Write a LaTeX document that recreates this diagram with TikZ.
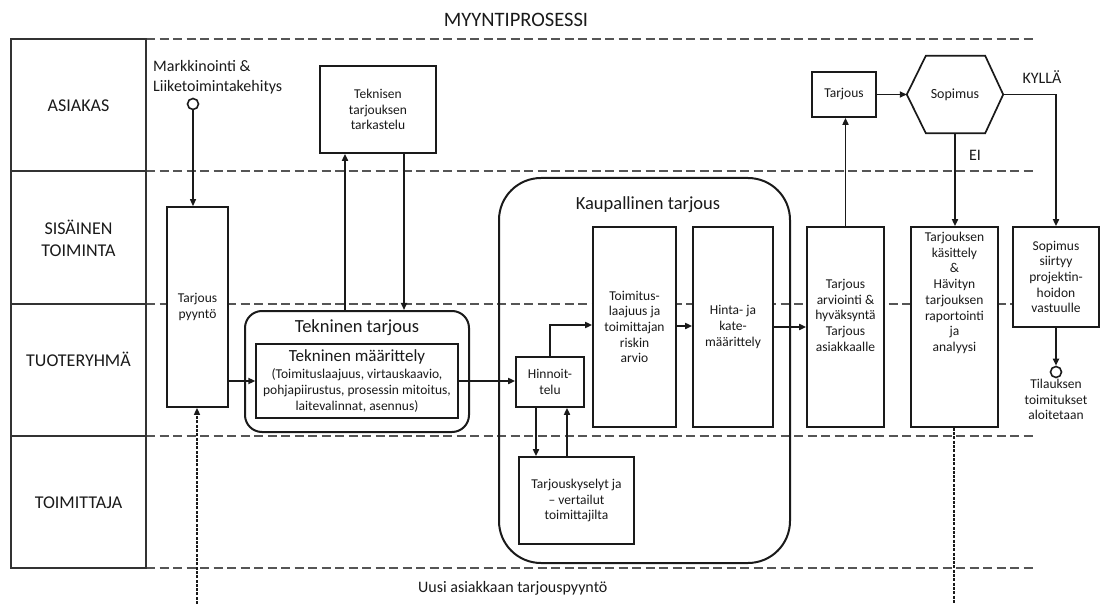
\documentclass[tikz,border=0pt]{standalone}
\usepackage{fontspec}
\setmainfont{Carlito}
\usetikzlibrary{arrows.meta,calc}

\definecolor{ink}{HTML}{1A1A1A}
\definecolor{laneline}{HTML}{555555}
\definecolor{framecol}{HTML}{333333}

\begin{document}
\begin{tikzpicture}[x=1pt,y=-1pt,
  lanesep/.style={draw=laneline, dash pattern=on 9pt off 4.5pt, line width=1.4pt},
  frame/.style={draw=framecol, line width=1.2pt},
  lanetxt/.style={font=\fontsize{18}{22}\selectfont, align=center, text=ink},
  box/.style={draw=ink, fill=white, line width=1.7pt, inner sep=0pt, align=center,
    text=ink, font=\fontsize{13.5}{15.7}\selectfont},
  group/.style={draw=ink, line width=2pt, inner sep=0pt},
  flow/.style={draw=ink, line width=1.7pt, -{Triangle[length=7pt,width=6pt]}},
  thinflow/.style={draw=ink, line width=1.1pt, -{Triangle[length=7pt,width=6pt]}},
  loopline/.style={draw=ink, line width=1.5pt, dash pattern=on 3pt off 1.3pt},
  endpoint/.style={circle, draw=ink, fill=white, line width=1.6pt, minimum size=11pt, inner sep=0pt},
  plain/.style={text=ink, align=center, inner sep=0pt},
]
\useasboundingbox (0,0) rectangle (1101,604);

% title
\node[plain, font=\fontsize{20.5}{24}\selectfont] (title) at (516,20) {MYYNTIPROSESSI};

% swimlane separators
\foreach \yy in {39,171,304,436,568}
  \draw[lanesep] (146,\yy) -- (1037,\yy);

% lane label column
\draw[frame] (11,39) rectangle (146,568);
\foreach \yy in {171,304,436}
  \draw[frame] (11,\yy) -- (146,\yy);
\node[lanetxt] (laneA) at (78.5,106) {ASIAKAS};
\node[lanetxt] (laneS) at (78.5,238) {SISÄINEN\\TOIMINTA};
\node[lanetxt] (laneT) at (78.5,359) {TUOTERYHMÄ};
\node[lanetxt] (laneP) at (78.5,503) {TOIMITTAJA};

% start event
\node[plain, anchor=west, align=left, font=\fontsize{16}{20}\selectfont] (mk) at (153,77)
  {Markkinointi \&\\Liiketoimintakehitys};
\node[endpoint] (start) at (193,104) {};

% request
\node[box, minimum width=61pt, minimum height=200pt] (req) at (197.5,307) {Tarjous\\pyyntö};

% technical offer
\node[box, minimum width=116pt, minimum height=87pt] (tekR) at (378,109.5)
  {Teknisen\\tarjouksen\\tarkastelu};
\node[group, fill=white, rounded corners=17pt, minimum width=224pt, minimum height=121pt] (tekOuter) at (357,371.5) {};
\node[plain, font=\fontsize{18.5}{22}\selectfont] (tekTitle) at (357,328) {Tekninen tarjous};
\node[box, line width=1.3pt, minimum width=202pt, minimum height=74pt] (tekInner) at (357,381)
  {{\fontsize{17}{19}\selectfont Tekninen määrittely}\\[1pt]
   (Toimituslaajuus, virtauskaavio,\\
   pohjapiirustus, prosessin mitoitus,\\
   laitevalinnat, asennus)};

% commercial offer
\node[group, rounded corners=42pt, minimum width=291pt, minimum height=385pt] (kaup) at (644.5,370.5) {};
\node[plain, font=\fontsize{18.5}{22}\selectfont] (kaupTitle) at (648,205) {Kaupallinen tarjous};
\node[box, minimum width=68pt, minimum height=50pt] (hinn) at (550,382) {Hinnoit-\\telu};
\node[box, minimum width=83pt, minimum height=200pt] (risk) at (634.5,327)
  {Toimitus-\\laajuus ja\\toimittajan\\riskin\\arvio};
\node[box, minimum width=80pt, minimum height=200pt] (price) at (733,327)
  {Hinta- ja\\kate-\\määrittely};
\node[box, minimum width=115pt, minimum height=87pt] (supp) at (576.5,500.5)
  {Tarjouskyselyt ja\\– vertailut\\toimittajilta};

% evaluation and customer decision
\node[box, minimum width=77pt, minimum height=200pt] (eval) at (845.5,327)
  {Tarjous\\arviointi \&\\hyväksyntä\\Tarjous\\asiakkaalle\\[8pt]};
\node[box, minimum width=64pt, minimum height=45pt] (offer) at (844,94.5) {Tarjous};
\node[plain, minimum width=96pt, minimum height=77pt, font=\fontsize{14}{16}\selectfont] (sop) at (955,94.5) {Sopimus};
\draw[draw=ink, line width=1.7pt]
  (sop.west) -- ([xshift=19pt]sop.north west) -- ([xshift=-18pt]sop.north east)
  -- (sop.east) -- ([xshift=-18pt]sop.south east) -- ([xshift=19pt]sop.south west) -- cycle;
\node[plain, font=\fontsize{16}{20}\selectfont] (yes) at (1042,77) {KYLLÄ};
\node[plain, font=\fontsize{16}{20}\selectfont] (no) at (975,155) {EI};

\node[box, minimum width=87pt, minimum height=200pt] (decide) at (954.5,327) {};
\node[plain, anchor=north, font=\fontsize{13.5}{15.7}\selectfont] (decideTxt) at (954.5,232)
  {Tarjouksen\\käsittely\\\&\\Hävityn\\tarjouksen\\raportointi\\ja\\analyysi};
\node[box, minimum width=86pt, minimum height=100pt] (proj) at (1056,277)
  {Sopimus\\siirtyy\\projektin-\\hoidon\\vastuulle};
\node[endpoint] (finish) at (1056,372) {};
\node[plain, anchor=north, font=\fontsize{13.5}{15.7}\selectfont] (finishTxt) at (1056,379)
  {Tilauksen\\toimitukset\\aloitetaan};

% new request loop
\coordinate (loopL) at (197,604);
\coordinate (loopR) at (954,604);
\node[plain, anchor=west, font=\fontsize{16}{20}\selectfont] (loopTxt) at (418,588) {Uusi asiakkaan tarjouspyyntö};

% connectors
\draw[thinflow] (start) -- (start |- req.north);
\draw[flow] (req.east |- tekInner.west) -- (tekInner.west);
\draw[flow] ([xshift=-12pt]tekOuter.north) -- ([xshift=-12pt]tekOuter.north |- tekR.south);
\draw[flow] ([xshift=26pt]tekR.south) -- ([xshift=26pt]tekR.south |- tekOuter.north);
\draw[flow] (tekInner.east) -- (tekInner.east -| hinn.west);
\draw[flow] (hinn.north) |- ([yshift=2pt]risk.west);
\draw[flow] ([yshift=1pt]risk.east) -- ([yshift=1pt]price.west);
\draw[flow] (price.east) -- (eval.west);
\draw[flow] ([xshift=-14pt]hinn.south) -- ([xshift=-14pt]hinn.south |- supp.north);
\draw[flow] ([xshift=17pt]hinn.south |- supp.north) -- ([xshift=17pt]hinn.south);
\draw[flow] (eval.north) -- (eval.north |- offer.south);
\draw[flow] (offer.east) -- (sop.west);
\draw[flow] (sop.east) -| (proj.north);
\draw[flow] (sop.south) -- (sop.south |- decide.north);
\draw[flow] (proj.south) -- (finish.north);
\draw[loopline, -{Triangle[length=7pt,width=6pt]}] (loopL) -- (loopL |- req.south);
\draw[loopline] (decide.south -| loopR) -- (loopR);
\end{tikzpicture}
\end{document}
